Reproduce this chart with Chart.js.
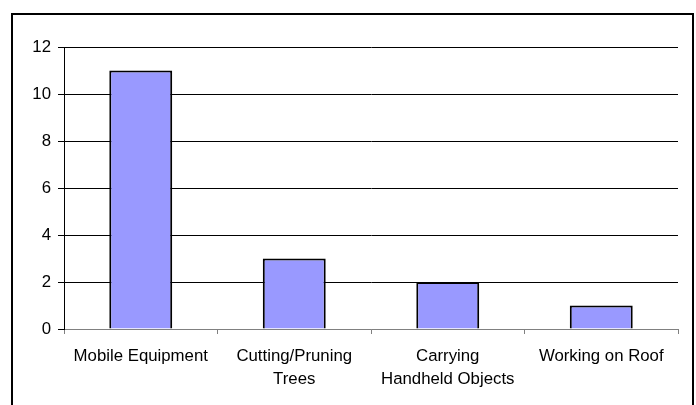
<!DOCTYPE html>
<html>
<head>
<meta charset="utf-8">
<script src="https://cdn.jsdelivr.net/npm/chart.js@4/dist/chart.umd.min.js"></script>
<style>
  html, body { margin: 0; padding: 0; background: #fff; overflow: hidden; }
  #frame { position: absolute; left: 11px; top: 13px; width: 679px; height: 400px;
           border: 2px solid #000; border-bottom: none; }
  #wrap { position: absolute; left: 0; top: 0; width: 696px; height: 405px; }
</style>
</head>
<body>
<div id="frame"></div>
<div id="wrap"><canvas id="c" width="696" height="405"></canvas></div>
<script>
const categories = [
  "Mobile Equipment",
  ["Cutting/Pruning", "Trees"],
  ["Carrying", "Handheld Objects"],
  "Working on Roof"
];
const counts = [11, 3, 2, 1];
const yTicks = [0, 2, 4, 6, 8, 10, 12];

const FONT = { family: "'Liberation Sans', Arial, sans-serif", size: 16.8, lineHeight: 1.37 };

new Chart(document.getElementById('c'), {
  type: 'bar',
  data: {
    labels: categories,
    datasets: [{
      data: counts,
      backgroundColor: '#9999FF',
      borderColor: '#000000',
      borderWidth: 2,
      categoryPercentage: 1,
      barPercentage: 0.41
    }]
  },
  options: {
    responsive: false,
    animation: false,
    events: [],
    layout: { padding: { left: 0, right: 18, top: 47, bottom: 0 } },
    plugins: { legend: { display: false }, tooltip: { enabled: false } },
    scales: {
      x: {
        afterFit: s => { s.height = 76; },
        grid: { display: true, drawOnChartArea: false, drawTicks: true, tickLength: 5, color: '#808080', lineWidth: 1, offset: true },
        border: { display: true, color: '#808080', width: 1 },
        ticks: { color: '#000', font: FONT, padding: 11, maxRotation: 0, autoSkip: false }
      },
      y: {
        min: 0, max: 12,
        afterFit: s => { s.width = 64; },
        afterBuildTicks: s => { s.ticks = yTicks.map(v => ({ value: v })); },
        grid: {
          color: c => (c.tick && c.tick.value === 0) ? '#808080' : '#000000',
          lineWidth: 1, drawTicks: true, tickLength: 6,
          tickColor: '#000000'
        },
        border: { display: true, color: '#000000', width: 1 },
        ticks: { color: '#000', font: FONT, padding: 7 }
      }
    }
  }
});
</script>
</body>
</html>
